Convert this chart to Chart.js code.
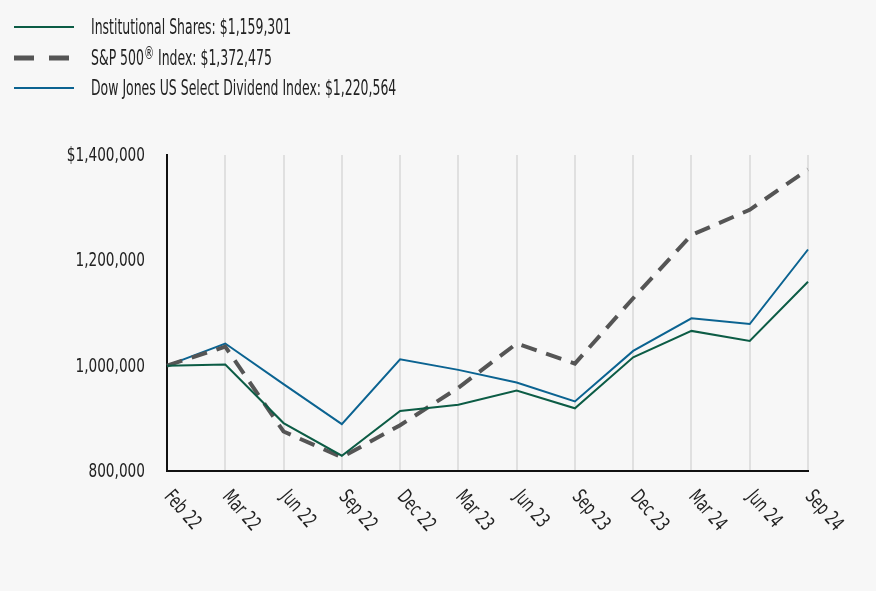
<!DOCTYPE html>
<html>
<head>
<meta charset="utf-8">
<script src="https://cdn.jsdelivr.net/npm/chart.js@4.4.1/dist/chart.umd.min.js"></script>
<style>
  html, body { margin: 0; padding: 0; background: #f7f7f7; }
  #wrap { position: relative; width: 876px; height: 591px; }
  #legend { position: absolute; left: 14px; top: 12px; font-family: "Liberation Sans Narrow", "DejaVu Sans Condensed", "Roboto", sans-serif; font-size: 21px; color: #222; }
  .item { display: flex; align-items: center; height: 30.5px; white-space: nowrap; }
  .item svg { width: 60px; height: 10px; margin-right: 17px; flex: none; }
  .item span { display: inline-block; transform: scaleX(0.66); transform-origin: left center; }
  sup { font-size: 17px; vertical-align: 6px; line-height: 0; }
</style>
</head>
<body>
<div id="wrap">
  <canvas id="c" width="876" height="591"></canvas>
  <div id="legend"></div>
</div>
<script>
const categories = ["Feb 22","Mar 22","Jun 22","Sep 22","Dec 22","Mar 23","Jun 23","Sep 23","Dec 23","Mar 24","Jun 24","Sep 24"];
const institutionalShares = [1000000,1002000,891000,829000,914000,926000,953000,919000,1016000,1066000,1047000,1159301];
const sp500Index = [1000000,1036000,875000,826000,887000,958000,1042000,1004000,1128000,1248000,1296000,1372475];
const dowJonesSelectDividend = [1000000,1042000,965000,889000,1012000,992000,968000,932000,1028000,1090000,1079000,1220564];
const seriesNames = ["Institutional Shares: $1,159,301","S&P 500<sup>®</sup> Index: $1,372,475","Dow Jones US Select Dividend Index: $1,220,564"];
const yTicks = [800000,1000000,1200000,1400000];
const yTickLabels = ["800,000","1,000,000","1,200,000","$1,400,000"];

const FONT = '"Liberation Sans Narrow", "DejaVu Sans Condensed", Roboto, sans-serif';
const colors = ["#0c5c45", "#555555", "#0b6391"];

// HTML legend
const legendEl = document.getElementById('legend');
seriesNames.forEach((name, i) => {
  const dashed = i === 1;
  const line = dashed
    ? '<line x1="0" y1="5" x2="60" y2="5" stroke="' + colors[i] + '" stroke-width="5" stroke-dasharray="20 15"/>'
    : '<line x1="0" y1="5" x2="60" y2="5" stroke="' + colors[i] + '" stroke-width="2"/>';
  const d = document.createElement('div');
  d.className = 'item';
  d.innerHTML = '<svg viewBox="0 0 60 10">' + line + '</svg><span>' + name + '</span>';
  legendEl.appendChild(d);
});

const customLabels = {
  id: 'customLabels',
  afterDraw(chart) {
    const xs = chart.scales.x;
    const ys = chart.scales.y;
    const ctx = chart.ctx;
    ctx.save();
    ctx.fillStyle = '#222';
    // x labels, rotated clockwise
    ctx.font = '20px ' + FONT;
    ctx.textAlign = 'left';
    ctx.textBaseline = 'top';
    categories.forEach((lab, i) => {
      const x = xs.getPixelForValue(i);
      ctx.save();
      ctx.translate(x + 8, chart.chartArea.bottom + 16);
      ctx.rotate(49 * Math.PI / 180);
      ctx.scale(0.74, 1);
      ctx.fillText(lab, 0, 0);
      ctx.restore();
    });
    // y labels
    ctx.font = '19px ' + FONT;
    ctx.textAlign = 'right';
    ctx.textBaseline = 'middle';
    yTicks.forEach((v, i) => {
      const y = ys.getPixelForValue(v);
      ctx.save();
      ctx.translate(145, y + 1);
      ctx.scale(0.8, 1);
      ctx.fillText(yTickLabels[i], 0, 0);
      ctx.restore();
    });
    ctx.restore();
  }
};

new Chart(document.getElementById('c'), {
  type: 'line',
  data: {
    labels: categories,
    datasets: [
      { label: 'Institutional Shares', data: institutionalShares, borderColor: colors[0], borderWidth: 2, pointRadius: 0, tension: 0, fill: false },
      { label: 'S&P 500 Index', data: sp500Index, borderColor: colors[1], borderWidth: 4, borderDash: [16, 10], pointRadius: 0, tension: 0, fill: false },
      { label: 'Dow Jones US Select Dividend Index', data: dowJonesSelectDividend, borderColor: colors[2], borderWidth: 2, pointRadius: 0, tension: 0, fill: false }
    ]
  },
  options: {
    responsive: false,
    animation: false,
    devicePixelRatio: 1,
    layout: { padding: { top: 155, right: 68, bottom: 0, left: 0 } },
    plugins: { legend: { display: false }, tooltip: { enabled: false } },
    scales: {
      x: {
        offset: false,
        grid: { display: true, color: '#e0e0e0', lineWidth: 2, drawTicks: false },
        border: { display: true, color: '#111', width: 2 },
        ticks: { display: false },
        afterFit(scale) { scale.height = 120; }
      },
      y: {
        min: 800000,
        max: 1400000,
        afterBuildTicks(scale) { scale.ticks = yTicks.map(v => ({ value: v })); },
        grid: { display: false, drawTicks: false },
        border: { display: true, color: '#111', width: 2 },
        ticks: { display: false },
        afterFit(scale) { scale.width = 167; }
      }
    }
  },
  plugins: [customLabels]
});
</script>
</body>
</html>
